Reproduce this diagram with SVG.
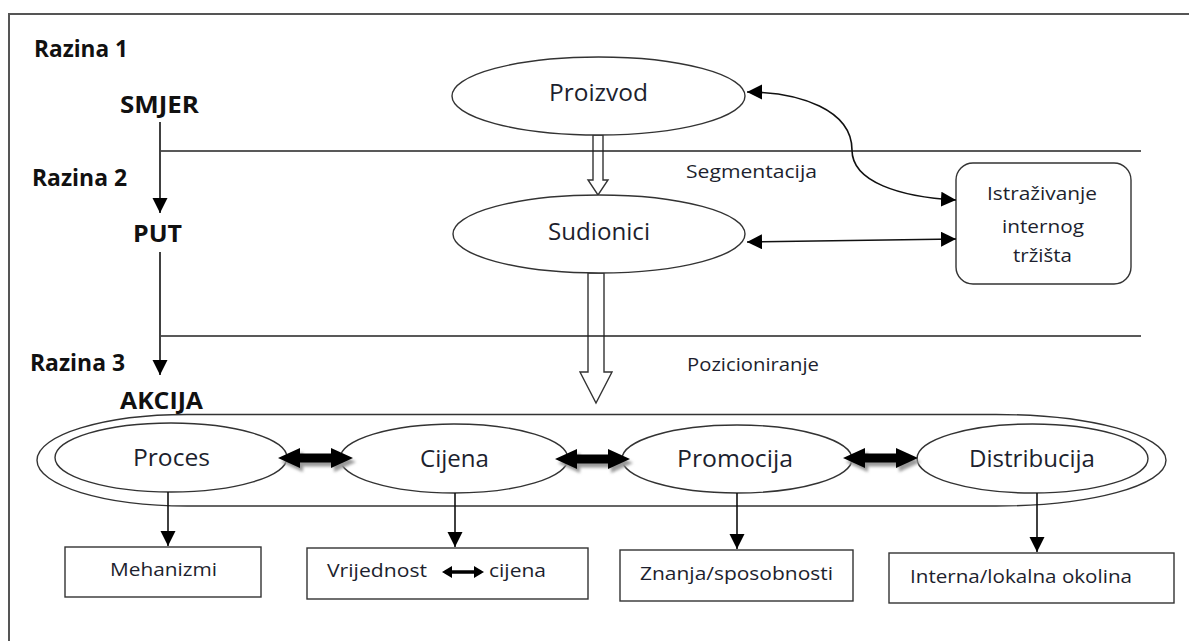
<svg xmlns="http://www.w3.org/2000/svg" xmlns:xlink="http://www.w3.org/1999/xlink" width="1189" height="641" viewBox="0 0 1189 641">
<style>
text{font-family:"Open Sans","Liberation Sans",sans-serif;fill:#1d1f2e}
.b{font-weight:bold;font-size:23px;fill:#111}
.lg{font-size:23px}
.md{font-size:19px}
.sm{font-size:18px}
.shape{fill:#fff;stroke:#333;stroke-width:1.4}
.ln{fill:none;stroke:#222;stroke-width:1.5}
.arr{fill:none;stroke:#111;stroke-width:1.6}
</style>
<defs>
<marker id="ah" markerUnits="userSpaceOnUse" markerWidth="16" markerHeight="16" refX="15" refY="7.5" orient="auto-start-reverse">
<path d="M0,0 L15,7.5 L0,15 Z" fill="#000"/>
</marker>
<filter id="blur" x="-20%" y="-50%" width="140%" height="200%"><feGaussianBlur stdDeviation="1.6"/></filter>
<path id="dbl" d="M0,0 L22,-10 L22,-4.5 L53,-4.5 L53,-10 L75,0 L53,10 L53,4.5 L22,4.5 L22,10 Z"/>
</defs>

<path d="M9,641 V14 H1189" fill="none" stroke="#555" stroke-width="2"/>

<g id="levels">
<text class="b" x="34" y="57" textLength="94" lengthAdjust="spacingAndGlyphs">Razina 1</text>
<text class="b" x="120" y="113" textLength="79" lengthAdjust="spacingAndGlyphs">SMJER</text>
<text class="b" x="32" y="186" textLength="95" lengthAdjust="spacingAndGlyphs">Razina 2</text>
<text class="b" x="133" y="242" textLength="49" lengthAdjust="spacingAndGlyphs">PUT</text>
<text class="b" x="30" y="371" textLength="95" lengthAdjust="spacingAndGlyphs">Razina 3</text>
<text class="b" x="120" y="409" textLength="83" lengthAdjust="spacingAndGlyphs">AKCIJA</text>
</g>

<g id="hollow-arrows">
<polygon class="shape" points="593,135 603,135 603,180 608,180 598,195 588,180 593,180"/>
<polygon class="shape" points="588,273 604,273 604,372 612,372 596,403 580,372 588,372"/>
</g>

<g id="dividers">
<line class="ln" x1="161" y1="151" x2="1141" y2="151"/>
<line class="ln" x1="161" y1="336" x2="1141" y2="336"/>
<text class="md" x="686" y="178" textLength="131" lengthAdjust="spacingAndGlyphs">Segmentacija</text>
<text class="md" x="687" y="371" textLength="132" lengthAdjust="spacingAndGlyphs">Pozicioniranje</text>
</g>

<g id="proizvod">
<ellipse class="shape" cx="598.5" cy="96" rx="146.5" ry="39"/>
<text class="lg" x="549" y="101" textLength="99" lengthAdjust="spacingAndGlyphs">Proizvod</text>
</g>

<g id="sudionici">
<ellipse class="shape" cx="599" cy="234" rx="146" ry="39"/>
<text class="lg" x="548" y="240" textLength="102" lengthAdjust="spacingAndGlyphs">Sudionici</text>
</g>

<g id="istrazivanje">
<rect class="shape" x="956" y="163" width="175" height="121" rx="17"/>
<text class="md" x="987" y="200" textLength="110" lengthAdjust="spacingAndGlyphs">Istraživanje</text>
<text class="md" x="1002" y="233" textLength="82" lengthAdjust="spacingAndGlyphs">internog</text>
<text class="md" x="1013" y="262" textLength="59" lengthAdjust="spacingAndGlyphs">tržišta</text>
</g>

<g id="akcija-group">
<path class="shape" d="M187,414.5 L996,414.5 C1090,414.5 1166,435 1166,460.25 C1166,485.5 1090,506 996,506 L187,506 C104,506 37,485.5 37,460.25 C37,435 104,414.5 187,414.5 Z"/>
</g>

<g id="proces">
<ellipse class="shape" cx="171" cy="457.5" rx="116" ry="34.5"/>
<text class="lg" x="133" y="466" font-size="24" textLength="77" lengthAdjust="spacingAndGlyphs">Proces</text>
</g>
<g id="cijena">
<ellipse class="shape" cx="454" cy="458.5" rx="114" ry="34.5"/>
<text class="lg" x="420" y="467" textLength="69" lengthAdjust="spacingAndGlyphs">Cijena</text>
</g>
<g id="promocija">
<ellipse class="shape" cx="737" cy="459" rx="115" ry="34"/>
<text class="lg" x="677" y="467" textLength="116" lengthAdjust="spacingAndGlyphs">Promocija</text>
</g>
<g id="distribucija">
<ellipse class="shape" cx="1032.5" cy="458.5" rx="115.5" ry="34.5"/>
<text class="lg" x="969" y="467" textLength="126" lengthAdjust="spacingAndGlyphs">Distribucija</text>
</g>

<g id="mehanizmi">
<rect class="shape" x="65" y="547" width="196" height="50"/>
<text class="sm" x="110" y="576" textLength="107" lengthAdjust="spacingAndGlyphs">Mehanizmi</text>
</g>
<g id="vrijednost">
<rect class="shape" x="307" y="548" width="281" height="51"/>
<text class="sm" x="327" y="577" textLength="100" lengthAdjust="spacingAndGlyphs">Vrijednost</text>
<polygon points="442,572 452,566 452,570.3 474,570.3 474,566 484,572 474,578 474,573.7 452,573.7 452,578" fill="#000"/>
<text class="sm" x="489" y="577" textLength="57" lengthAdjust="spacingAndGlyphs">cijena</text>
</g>
<g id="znanja">
<rect class="shape" x="620" y="550" width="233" height="51"/>
<text class="sm" x="640" y="580" textLength="193" lengthAdjust="spacingAndGlyphs">Znanja/sposobnosti</text>
</g>
<g id="interna">
<rect class="shape" x="889" y="553" width="285" height="50"/>
<text class="sm" x="910" y="583" textLength="222" lengthAdjust="spacingAndGlyphs">Interna/lokalna okolina</text>
</g>

<g id="connectors">
<line class="arr" x1="160" y1="122" x2="160" y2="213" marker-end="url(#ah)"/>
<line class="arr" x1="160" y1="252" x2="160" y2="375" marker-end="url(#ah)"/>
<path class="arr" d="M747,92 C800,92 852,110 852,150 C852,182 900,197 956,200" marker-start="url(#ah)" marker-end="url(#ah)"/>
<line class="arr" x1="747" y1="242" x2="956" y2="239" marker-start="url(#ah)" marker-end="url(#ah)"/>
<line class="arr" x1="168" y1="492" x2="168" y2="546" marker-end="url(#ah)"/>
<line class="arr" x1="455" y1="493" x2="455" y2="547" marker-end="url(#ah)"/>
<line class="arr" x1="737" y1="493" x2="737" y2="549" marker-end="url(#ah)"/>
<line class="arr" x1="1037" y1="493" x2="1037" y2="552" marker-end="url(#ah)"/>
<g fill="#999" filter="url(#blur)">
<use xlink:href="#dbl" x="281" y="462"/>
<use xlink:href="#dbl" x="558" y="463"/>
<use xlink:href="#dbl" x="846" y="462"/>
</g>
<g fill="#000">
<use xlink:href="#dbl" x="278" y="458"/>
<use xlink:href="#dbl" x="555" y="459"/>
<use xlink:href="#dbl" x="843" y="458"/>
</g>
</g>
</svg>
